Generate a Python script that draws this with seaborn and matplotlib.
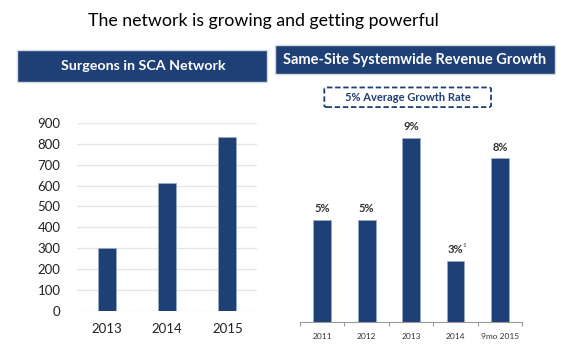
import matplotlib.pyplot as plt
import seaborn as sns
from matplotlib.patches import Rectangle, FancyBboxPatch

# Data
surgeon_years = ['2013', '2014', '2015']
surgeons = [300, 612, 830]

growth_years = ['2011', '2012', '2013', '2014', '9mo 2015']
growth = [5, 5, 9, 3, 8]
growth_labels = ['5%', '5%', '9%', '3%', '8%']

navy = '#1f3f77'

sns.set_theme(style='white')
plt.rcParams['font.family'] = ['Lato', 'DejaVu Sans']

fig = plt.figure(figsize=(5.67, 3.57), dpi=100)

fig.text(0.464, 0.940, 'The network is growing and getting powerful',
         ha='center', va='center', fontsize=12.8, color='black')

# Banners
fig.patches.append(Rectangle((0.030, 0.771), 0.441, 0.090, transform=fig.transFigure,
                             facecolor=navy, edgecolor='#d5d9e0', lw=1))
fig.text(0.253, 0.816, 'Surgeons in SCA Network', ha='center', va='center',
         fontsize=10.3, color='white', fontweight='bold')
fig.patches.append(Rectangle((0.485, 0.792), 0.494, 0.082, transform=fig.transFigure,
                             facecolor=navy, edgecolor='#d5d9e0', lw=1))
fig.text(0.732, 0.833, 'Same-Site Systemwide Revenue Growth', ha='center', va='center',
         fontsize=10.5, color='white', fontweight='bold')

# Dashed box
fig.patches.append(FancyBboxPatch((0.572, 0.700), 0.294, 0.055, transform=fig.transFigure,
                                  boxstyle='round,pad=0,rounding_size=0.004',
                                  facecolor='white', edgecolor=navy, lw=1.3, ls=(0, (3, 1.5))))
fig.text(0.719, 0.727, '5% Average Growth Rate', ha='center', va='center',
         fontsize=8, color=navy, fontweight='bold')

# Left chart
ax1 = fig.add_axes([0.136, 0.129, 0.318, 0.527])
sns.barplot(x=surgeon_years, y=surgeons, ax=ax1, color=navy, width=0.3,
            saturation=1, edgecolor='#9aaac4', linewidth=0.6)
ax1.set_ylim(0, 900)
ax1.set_xlim(-0.5, 2.5)
ax1.set_yticks(range(0, 901, 100))
ax1.grid(axis='y', color='#e6e6e6', lw=1)
ax1.set_axisbelow(True)
sns.despine(ax=ax1, left=True, bottom=True)
ax1.tick_params(axis='y', length=0, labelsize=9.5, labelcolor='#222222', pad=12)
ax1.tick_params(axis='x', length=0, labelsize=9.5, labelcolor='#222222', pad=9)

# Right chart
ax2 = fig.add_axes([0.529, 0.098, 0.392, 0.538])
sns.barplot(x=growth_years, y=growth, ax=ax2, color=navy, width=0.4,
            saturation=1, edgecolor='#9aaac4', linewidth=0.6)
ax2.set_xlim(-0.5, 4.5)
ax2.set_ylim(0, 9.37)
for i, (v, lab) in enumerate(zip(growth, growth_labels)):
    ax2.text(i, v + 0.25, lab, ha='center', va='bottom', fontsize=8,
             color='#333333', fontweight='bold')
# footnote marker on the 2014 label
ax2.annotate('1', xy=(3, growth[3] + 0.25), xytext=(5.2, 5.5), textcoords='offset points',
             ha='left', va='bottom', fontsize=4.5, color='#333333')
sns.despine(ax=ax2, left=True)
ax2.spines['bottom'].set_color('#999999')
ax2.spines['bottom'].set_linewidth(0.8)
ax2.set_yticks([])
ax2.set_xticks([x + 0.5 for x in range(-1, 5)], minor=True)
ax2.tick_params(axis='x', which='major', length=0, labelsize=6, labelcolor='#333333', pad=8)
ax2.tick_params(axis='x', which='minor', bottom=True, length=3, color='#999999', width=0.8)

fig.savefig('out.png', dpi=100)
